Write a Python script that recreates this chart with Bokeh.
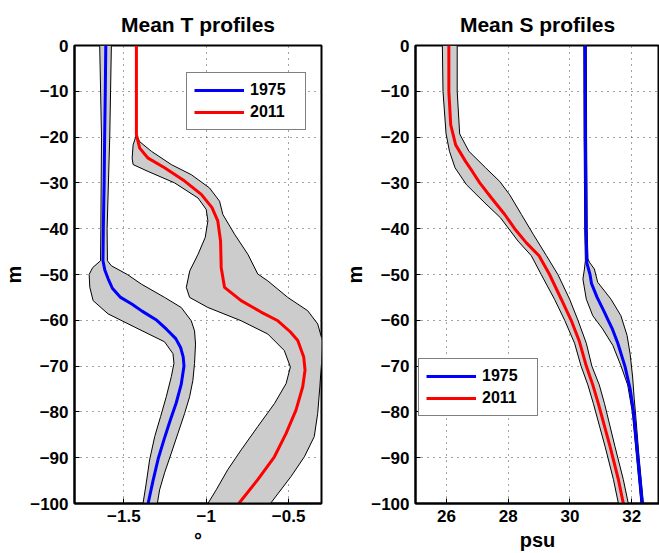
from bokeh.plotting import figure
from bokeh.layouts import row
from bokeh.models import Legend, LegendItem, FixedTicker, Range1d
from bokeh.embed import file_html
from bokeh.resources import INLINE

# ---------------- data (depth in m, positive downward) ----------------
# Temperature, 1975
t75_d = [0, 10, 20, 30, 40, 47, 49, 51, 53, 55, 56.5, 58, 60, 62, 64, 66, 68, 70, 74, 78, 82, 86, 90, 95, 100]
t75_v = [-1.61, -1.613, -1.617, -1.62, -1.625, -1.627, -1.616, -1.595, -1.57, -1.52, -1.45, -1.39, -1.30,
         -1.24, -1.185, -1.155, -1.14, -1.135, -1.152, -1.182, -1.22, -1.256, -1.29, -1.323, -1.353]
t75_lo_d = [0, 20, 40, 47, 48.5, 50, 52.8, 55.7, 58.6, 61.5, 64.7, 67.3, 69.4, 72.3, 76.6, 81, 85.4, 90.5, 95.5, 100]
t75_lo_v = [-1.647, -1.636, -1.64, -1.642, -1.69, -1.711, -1.707, -1.687, -1.596, -1.434, -1.253, -1.202,
            -1.196, -1.212, -1.242, -1.277, -1.313, -1.344, -1.364, -1.384]
t75_hi_d = [0, 20, 40, 47, 48.1, 50, 52.1, 55, 57.2, 60.1, 62.3, 65.2, 69.4, 73.1, 76.7, 80.3, 84.7, 89, 93.3, 97, 100]
t75_hi_v = [-1.576, -1.586, -1.602, -1.600, -1.576, -1.479, -1.394, -1.253, -1.152, -1.091, -1.071, -1.065,
            -1.071, -1.081, -1.101, -1.131, -1.172, -1.212, -1.253, -1.283, -1.297]

# Temperature, 2011
t11_d = [0, 19.5, 22.4, 24.6, 26.7, 29.6, 32.5, 35.4, 38.3, 42.7, 48.5, 52.8, 55.7, 58.2, 60.1, 62.5,
         64.4, 68, 70.9, 74.5, 79.6, 84.7, 89.8, 94.8, 100]
t11_v = [-1.424, -1.424, -1.404, -1.353, -1.253, -1.131, -1.03, -0.965, -0.93, -0.913, -0.909, -0.889,
         -0.788, -0.667, -0.565, -0.49, -0.444, -0.408, -0.4, -0.414, -0.455, -0.515, -0.586, -0.687, -0.802]
t11_lo_d = [19.5, 21.7, 24.6, 26, 27.5, 30, 33.3, 35.8, 38.3, 41.9, 45.6, 49.2, 52.8, 55, 57.2, 60.1,
            63, 66.6, 70.2, 73.8, 78.2, 83.2, 88.3, 92.6, 97, 100]
t11_lo_v = [-1.424, -1.444, -1.45, -1.444, -1.353, -1.192, -1.05, -1.0, -0.99, -1.006, -1.05, -1.1,
            -1.121, -1.101, -0.99, -0.788, -0.626, -0.526, -0.489, -0.515, -0.586, -0.687, -0.788,
            -0.869, -0.939, -0.99]
t11_hi_d = [19.5, 21, 23.1, 26, 28.2, 31.1, 34, 36.9, 41.2, 45.6, 49.9, 51.4, 55, 57.9, 60.8, 64.4,
            69.4, 74.5, 80.3, 85.4, 89.8, 94.1, 100]
t11_hi_v = [-1.424, -1.404, -1.333, -1.212, -1.091, -0.98, -0.919, -0.899, -0.828, -0.747, -0.687,
            -0.626, -0.505, -0.384, -0.323, -0.295, -0.3, -0.31, -0.323, -0.344, -0.404, -0.485, -0.61]

# Salinity, 2011
s11_d = [0, 10, 17.3, 21.7, 25.3, 27.5, 30, 33.3, 36.9, 40, 43.1, 45.9, 50, 55.4, 60, 64.7, 70, 74.1,
         78.2, 87.6, 94.8, 100]
s11_v = [26.08, 26.08, 26.14, 26.3, 26.62, 26.84, 27.08, 27.46, 27.89, 28.21, 28.59, 29.0, 29.34,
         29.72, 30.04, 30.31, 30.53, 30.74, 30.92, 31.3, 31.57, 31.73]
s11_lo_d = [0, 10, 19.3, 23.1, 26.7, 30.4, 34.4, 37.6, 42.7, 45.9, 50, 55.4, 60, 65, 70, 74.1, 78.2,
            87.6, 94.8, 100]
s11_lo_v = [25.87, 25.89, 25.99, 26.1, 26.28, 26.65, 27.25, 27.75, 28.32, 28.75, 29.07, 29.5, 29.83,
            30.15, 30.36, 30.58, 30.76, 31.14, 31.41, 31.57]
s11_hi_d = [0, 10, 19.3, 23.1, 26.7, 29.7, 32.6, 36.9, 41.2, 45.9, 50, 55.4, 60, 65, 70, 74.1, 78.2,
            87.6, 94.8, 100]
s11_hi_v = [26.35, 26.35, 26.43, 26.73, 27.27, 27.73, 28.05, 28.43, 28.81, 29.24, 29.61, 29.99, 30.26,
            30.53, 30.71, 30.95, 31.12, 31.46, 31.73, 31.89]

# Salinity, 1975
s75_d = [0, 20, 40, 47.5, 50, 52, 55, 58, 60, 62, 65, 70, 75, 80, 90, 100]
s75_v = [30.49, 30.5, 30.52, 30.55, 30.65, 30.7, 30.88, 31.1, 31.24, 31.38, 31.55, 31.78, 31.95, 32.06,
         32.2, 32.34]
s75_lo_d = [0, 20, 40, 47, 48.8, 51, 55.4, 59, 61.9, 65.5, 69.9, 74.1, 80, 90, 100]
s75_lo_v = [30.45, 30.46, 30.48, 30.5, 30.47, 30.42, 30.53, 30.74, 31.06, 31.39, 31.65, 31.87, 32.02,
            32.16, 32.3]
s75_hi_d = [0, 20, 40, 46.5, 47.3, 48.8, 51.7, 55.4, 59, 63.3, 67.4, 72.4, 77, 80, 90, 100]
s75_hi_v = [30.53, 30.54, 30.56, 30.58, 30.63, 30.79, 30.9, 31.33, 31.65, 31.85, 31.95, 32.03, 32.08,
            32.12, 32.24, 32.38]

y_ticks = [0, -10, -20, -30, -40, -50, -60, -70, -80, -90, -100]
y_tick_labels = ["0", "\u221210", "\u221220", "\u221230", "\u221240", "\u221250", "\u221260",
                 "\u221270", "\u221280", "\u221290", "\u2212100"]
t_ticks = [-1.5, -1.0, -0.5]
t_tick_labels = ["\u22121.5", "\u22121", "\u22120.5"]
s_ticks = [26, 28, 30, 32]
s_tick_labels = ["26", "28", "30", "32"]
years = ["1975", "2011"]

BLUE = "#0000ff"
RED = "#ff0000"
GREY = "#cccccc"
FONT = "Liberation Sans"


def band(p, lo_d, lo_v, hi_d, hi_v):
    xs = list(lo_v) + list(hi_v)[::-1]
    ys = [-d for d in lo_d] + [-d for d in hi_d][::-1]
    p.patch(xs, ys, fill_color=GREY, line_color="black", line_width=1)


def style(p, title, xlabel, xticks, xlabels):
    p.title.text = title
    p.title.align = "center"
    p.title.text_font = FONT
    p.title.text_font_size = "21px"
    p.title.text_font_style = "bold"
    p.title.text_color = "black"
    p.title.standoff = 20
    p.outline_line_color = "black"
    p.outline_line_width = 2
    p.xaxis.ticker = FixedTicker(ticks=xticks)
    p.xaxis.major_label_overrides = {t: l for t, l in zip(xticks, xlabels)}
    p.yaxis.ticker = FixedTicker(ticks=y_ticks)
    p.yaxis.major_label_overrides = {t: l for t, l in zip(y_ticks, y_tick_labels)}
    p.xaxis.axis_label = xlabel
    p.yaxis.axis_label = "m"
    for ax in (p.xaxis[0], p.yaxis[0]):
        ax.axis_line_color = "black"
        ax.axis_line_width = 2
        ax.major_tick_in = 5
        ax.major_tick_out = 0
        ax.major_tick_line_color = "black"
        ax.minor_tick_line_color = None
        ax.major_label_text_font = FONT
        ax.major_label_text_font_size = "17px"
        ax.major_label_text_font_style = "bold"
        ax.major_label_text_color = "black"
        ax.axis_label_text_font = FONT
        ax.axis_label_text_font_size = "20px"
        ax.axis_label_text_font_style = "bold"
        ax.axis_label_text_color = "black"
    p.xaxis.major_label_standoff = 6
    p.yaxis.major_label_standoff = 6
    p.xaxis.axis_label_standoff = 4
    p.yaxis.axis_label_standoff = 2
    for g in (p.xgrid[0], p.ygrid[0]):
        g.grid_line_color = "#444444"
        g.grid_line_dash = "1 5"
        g.grid_line_width = 1
    p.xgrid.ticker = FixedTicker(ticks=xticks)
    p.ygrid.ticker = FixedTicker(ticks=y_ticks)


def make_legend(p, r75, r11, loc):
    leg = Legend(items=[LegendItem(label=years[0], renderers=[r75]),
                        LegendItem(label=years[1], renderers=[r11])],
                 location=loc)
    leg.border_line_color = "black"
    leg.border_line_width = 1
    leg.background_fill_color = "white"
    leg.background_fill_alpha = 1
    leg.label_text_font = FONT
    leg.label_text_font_size = "16px"
    leg.label_text_font_style = "bold"
    leg.label_text_color = "black"
    leg.glyph_width = 50
    leg.glyph_height = 20
    leg.label_height = 20
    leg.label_width = 48
    leg.label_standoff = 6
    leg.spacing = 2
    leg.padding = 7
    leg.margin = 0
    p.add_layout(leg, "center")


# ---------------- left: temperature ----------------
p1 = figure(width=341, height=553, x_range=Range1d(-1.8, -0.3), y_range=Range1d(-100, 0),
            output_backend="svg", toolbar_location=None,
            min_border_left=73, min_border_right=20, min_border_top=43, min_border_bottom=49)
style(p1, "Mean T profiles", "\u00b0", t_ticks, t_tick_labels)
band(p1, t75_lo_d, t75_lo_v, t75_hi_d, t75_hi_v)
band(p1, t11_lo_d, t11_lo_v, t11_hi_d, t11_hi_v)
r1 = p1.line(t75_v, [-d for d in t75_d], line_color=BLUE, line_width=3)
r2 = p1.line(t11_v, [-d for d in t11_d], line_color=RED, line_width=3)
make_legend(p1, r1, r2, (112, 373))

# ---------------- right: salinity ----------------
p2 = figure(width=318, height=553, x_range=Range1d(25, 32.9), y_range=Range1d(-100, 0),
            output_backend="svg", toolbar_location=None,
            min_border_left=73, min_border_right=0, min_border_top=43, min_border_bottom=49)
style(p2, "Mean S profiles", "psu", s_ticks, s_tick_labels)
band(p2, s11_lo_d, s11_lo_v, s11_hi_d, s11_hi_v)
band(p2, s75_lo_d, s75_lo_v, s75_hi_d, s75_hi_v)
r3 = p2.line(s75_v, [-d for d in s75_d], line_color=BLUE, line_width=3)
r4 = p2.line(s11_v, [-d for d in s11_d], line_color=RED, line_width=3)
make_legend(p2, r3, r4, (3, 87))

layout = row(p1, p2, spacing=0)
open("out.html", "w").write(file_html(layout, INLINE))
